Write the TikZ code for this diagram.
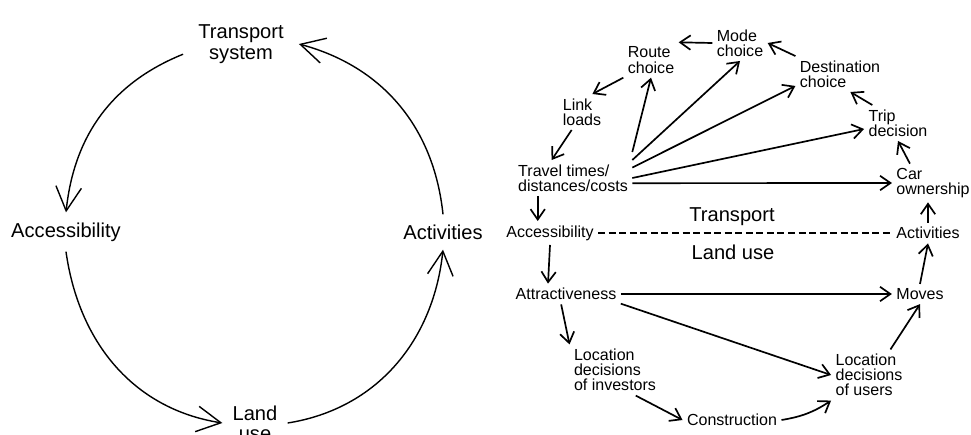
\documentclass[tikz,border=0pt]{standalone}
\usepackage{fontspec}
\setmainfont{Liberation Sans}
\usetikzlibrary{arrows.meta}

\begin{document}
\begin{tikzpicture}[x=0.025cm, y=-0.025cm,
  big/.style={font=\fontsize{14.3}{14.5}\selectfont, align=center},
  small/.style={font=\fontsize{11.4}{10.8}\selectfont, align=left, inner sep=3pt},
  loop/.style={-{Straight Barb[length=6mm, width=6.4mm]}, line width=1pt},
  arr/.style={-{Straight Barb[length=2.6mm, width=3.6mm]}, line width=1.2pt}]
\useasboundingbox (0,0) rectangle (971,434);
% left: the simple cycle
\node[big, inner xsep=3.75mm, inner ysep=1mm] (sys) at (241,44) {Transport\\system};
\node[big, inner ysep=2.5mm] (acc) at (66,232) {Accessibility};
\node[big, inner ysep=2.5mm] (act) at (443,232) {Activities};
\node[big, inner xsep=2.5mm] (land) at (255,423) {Land\\use};
\draw[loop] (sys.190) to[out=202, in=84] (acc.north);
\draw[loop] (acc.south) to[out=278, in=171] (land.west);
\draw[loop] (land.east) to[out=9, in=264] (act.south);
\draw[loop] (act.north) to[out=96, in=345] (sys.east);
% right: the land-use transport feedback cycle
\node[small] (mode) at (740,43) {Mode\\choice};
\node[small] (route) at (651,60) {Route\\choice};
\node[small] (link) at (582,112) {Link\\loads};
\node[small] (times) at (573,178) {Travel times/\\distances/costs};
\node[small] (dest) at (840,74) {Destination\\choice};
\node[small] (trip) at (898,123) {Trip\\decision};
\node[small] (car) at (933,183) {Car\\ownership};
\node[small] (access) at (550,233) {Accessibility};
\node[small] (activ) at (928,233) {Activities};
\node[small] (attr) at (566,294) {Attractiveness};
\node[small] (moves) at (920,294) {Moves};
\node[small] (invest) at (615,370) {Location\\decisions\\of investors};
\node[small] (constr) at (732,420) {Construction};
\node[small] (users) at (869,375) {Location\\decisions\\of users};
\node[big] (tlabel) at (732,217) {Transport};
\node[big] (llabel) at (733,252) {Land use};
% transport side
\draw[arr] (dest.north west) -- (mode.east);
\draw[arr] (mode.west) -- (route.north east);
\draw[arr] (route.south west) -- (link.60);
\draw[arr] (link.-120) -- (times.140);
\draw[arr] ([yshift=2mm]times.north east) -- (route.south);
\draw[arr] (times.north east) -- (mode.south);
\draw[arr] (times.10) -- (dest.195);
\draw[arr] (times.east) -- (trip.190);
\draw[arr] (times.-5) -- (car.west);
\draw[arr] (trip.145) -- (dest.-60);
\draw[arr] (car.140) -- (trip.south);
\draw[arr] (activ.north) -- (activ.north |- car.south);
\draw[arr] (times.-153) -- (times.-153 |- access.north);
% the border between the two
\draw[dash pattern=on 5pt off 2.5pt, line width=1pt] (access.east) -- (activ.west);
% land-use side
\draw[arr] (access.south) -- (attr.150);
\draw[arr] (attr.east) -- (moves.west);
\draw[arr] (attr.-10) -- (users.west);
\draw[arr] (attr.-115) -- (invest.north west);
\draw[arr] (invest.-51) -- (constr.west);
\draw[arr] (constr.east) to[bend right=12] (users.south west);
\draw[arr] (users.50) -- (moves.south);
\draw[arr] (moves.north) -- (activ.south);
\end{tikzpicture}
\end{document}
